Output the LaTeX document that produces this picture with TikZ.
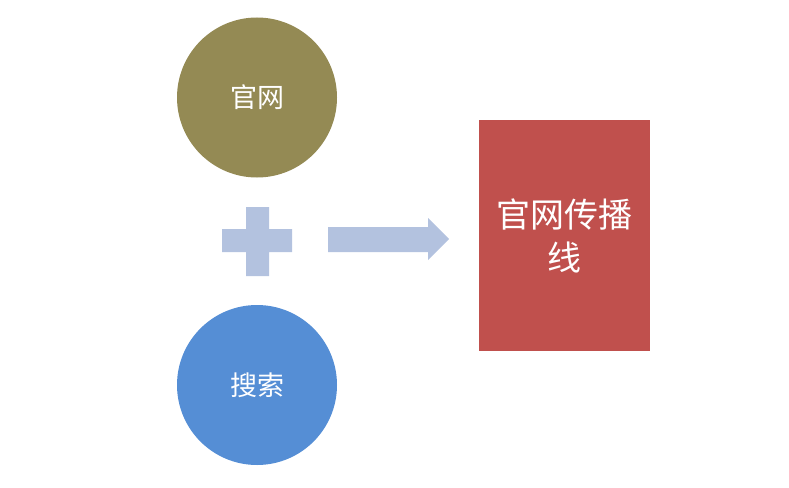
\documentclass[tikz,border=0pt]{standalone}
\usepackage{fontspec}
\newfontfamily\cjk{Noto Sans CJK SC}
\definecolor{olivec}{HTML}{948A54}
\definecolor{bluec}{HTML}{558ED5}
\definecolor{redc}{HTML}{C0504D}
\definecolor{palec}{HTML}{B3C2DF}
\begin{document}
\begin{tikzpicture}[x=1pt,y=-1pt,
  disc/.style={circle,minimum size=160pt,inner sep=0pt,text=white,font=\cjk\fontsize{27}{32}\selectfont},
  box/.style={rectangle,fill=redc,minimum width=171pt,minimum height=231pt,inner sep=0pt,text=white,align=center,font=\cjk\fontsize{34}{43}\selectfont},
  pale/.style={fill=palec}]
\useasboundingbox (0,0) rectangle (789,487);
\node[disc,fill=olivec] (web) at (257,97.5) {官网};
\node[disc,fill=bluec] (search) at (257,385) {搜索};
\node[box] (line) at (564.5,235.5) {官网传播\\线};
% plus sign
\coordinate (plusc) at (257.5,241.5);
\fill[pale] (246,207) -- (269,207) -- (269,229) -- (292,229) -- (292,252) -- (269,252) -- (269,276) -- (246,276) -- (246,252) -- (222,252) -- (222,229) -- (246,229) -- cycle;
% arrow
\fill[pale] (328,227) -- (428,227) -- (428,218) -- (449,239) -- (428,260) -- (428,252) -- (328,252) -- cycle;
\end{tikzpicture}
\end{document}
